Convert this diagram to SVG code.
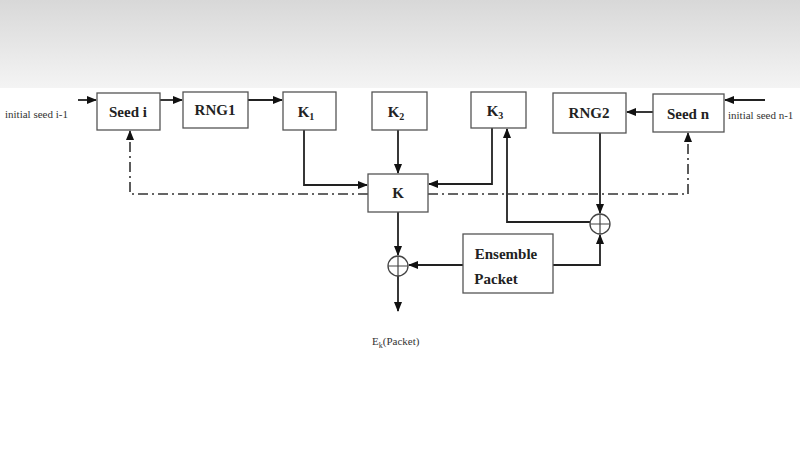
<svg xmlns="http://www.w3.org/2000/svg" width="800" height="450" viewBox="0 0 800 450">
<defs>
<linearGradient id="bg" x1="0" y1="0" x2="0" y2="1"><stop offset="0" stop-color="#d8d8d8"/><stop offset="1" stop-color="#f4f4f4"/></linearGradient>
<marker id="a" markerWidth="10" markerHeight="8" refX="9" refY="4" orient="auto" markerUnits="userSpaceOnUse"><path d="M0,0 L10,4 L0,8 z" fill="#111"/></marker>
</defs>
<style>
.b{fill:#fff;stroke:#555;stroke-width:1.3}
.t{font-family:"Liberation Serif",serif;font-weight:bold;font-size:15px;fill:#222;text-anchor:middle}
.s{font-family:"Liberation Serif",serif;font-size:11px;fill:#333}
.l{fill:none;stroke:#222;stroke-width:1.8}
.d{fill:none;stroke:#333;stroke-width:1.6;stroke-dasharray:10 4 2 4}
</style>
<rect width="800" height="450" fill="#fff"/>
<rect width="800" height="88" fill="url(#bg)"/>
<g id="connectors">
<path class="l" d="M78,100 H96" marker-end="url(#a)"/>
<path class="l" d="M160,100 H182" marker-end="url(#a)"/>
<path class="l" d="M248,100 H282" marker-end="url(#a)"/>
<path class="l" d="M765,100 H725" marker-end="url(#a)"/>
<path class="l" d="M653,112 H627" marker-end="url(#a)"/>
<path class="l" d="M304,130 V185 H367" marker-end="url(#a)"/>
<path class="l" d="M398,130 V173" marker-end="url(#a)"/>
<path class="l" d="M492,128 V184 H429" marker-end="url(#a)"/>
<path class="l" d="M600,133 V213" marker-end="url(#a)"/>
<path class="l" d="M590,222 H507 V129" marker-end="url(#a)"/>
<path class="l" d="M553,265 H600 V235" marker-end="url(#a)"/>
<path class="l" d="M463,265 H409" marker-end="url(#a)"/>
<path class="l" d="M398,212 V255" marker-end="url(#a)"/>
<path class="l" d="M398,276 V311" marker-end="url(#a)"/>
<path class="d" d="M368,194 H130 V131" marker-end="url(#a)"/>
<path class="d" d="M428,194 H688 V133" marker-end="url(#a)"/>
</g>
<text class="s" x="5" y="118">initial seed i-1</text>
<text class="s" x="728" y="119">initial seed n-1</text>
<g id="seedi"><rect class="b" x="97" y="93" width="63" height="37"/><text class="t" x="128" y="117">Seed i</text></g>
<g id="rng1"><rect class="b" x="183" y="92" width="65" height="36"/><text class="t" x="215" y="115">RNG1</text></g>
<g id="k1"><rect class="b" x="283" y="92" width="53" height="38"/><text class="t" x="306" y="117">K<tspan font-size="10" dy="3">1</tspan></text></g>
<g id="k2"><rect class="b" x="372" y="92" width="55" height="38"/><text class="t" x="396" y="117">K<tspan font-size="10" dy="3">2</tspan></text></g>
<g id="k3"><rect class="b" x="471" y="92" width="55" height="36"/><text class="t" x="495" y="116">K<tspan font-size="10" dy="3">3</tspan></text></g>
<g id="rng2"><rect class="b" x="553" y="93" width="73" height="40"/><text class="t" x="589" y="118">RNG2</text></g>
<g id="seedn"><rect class="b" x="653" y="94" width="71" height="38" stroke-width="2.5" stroke="#333"/><text class="t" x="688" y="119" font-size="16">Seed n</text></g>
<g id="k"><rect class="b" x="368" y="174" width="60" height="38"/><text class="t" x="398" y="198">K</text></g>
<g id="xor1"><circle cx="398" cy="266" r="10" fill="#fff" stroke="#444" stroke-width="1.3"/><path d="M388,266 H408 M398,256 V276" stroke="#444" stroke-width="1.2"/></g>
<g id="xor2"><circle cx="600" cy="224" r="10" fill="#fff" stroke="#444" stroke-width="1.3"/><path d="M590,224 H610 M600,214 V234" stroke="#444" stroke-width="1.2"/></g>
<g id="ensemble"><rect class="b" x="463" y="234" width="90" height="59"/><text class="t" x="506" y="259">Ensemble</text><text class="t" x="496" y="284">Packet</text></g>
<text class="s" x="372" y="345" font-size="12">E<tspan font-size="8" dy="3">k</tspan><tspan dy="-3">(Packet)</tspan></text>
</svg>
